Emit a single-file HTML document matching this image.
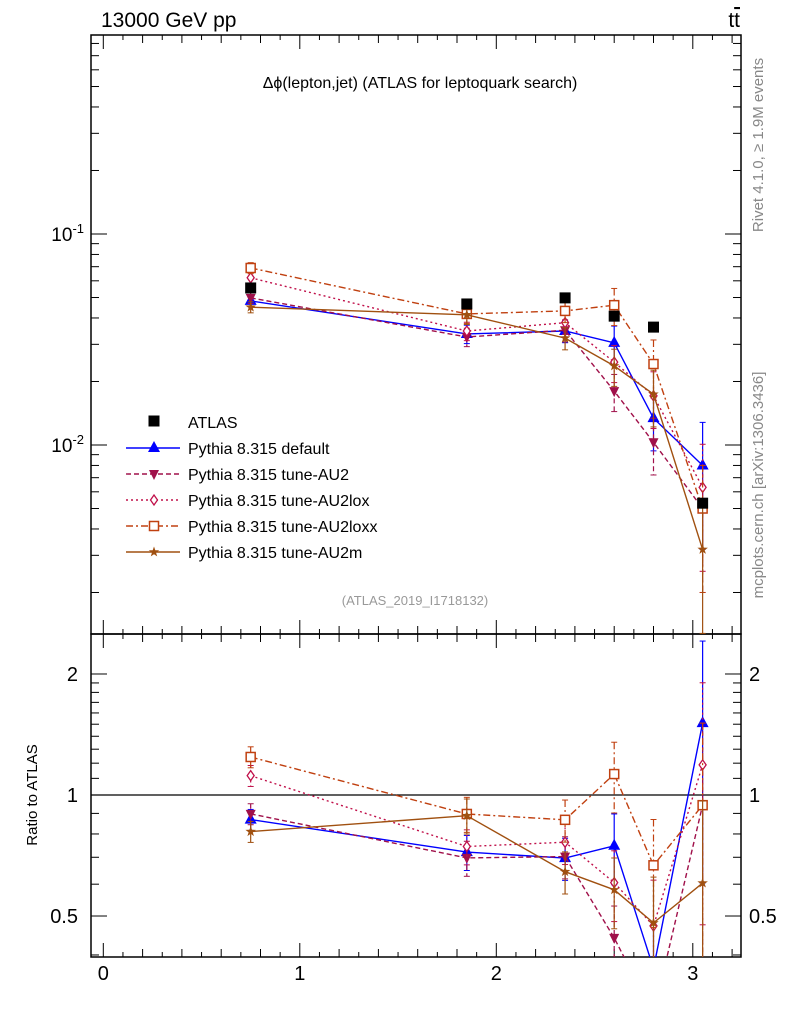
<!DOCTYPE html>
<html><head><meta charset="utf-8"><style>
body{margin:0;background:#fff;}
svg text{font-family:"Liberation Sans",sans-serif;}
</style></head><body>
<svg id="chart" width="786" height="1024" xmlns="http://www.w3.org/2000/svg">
<g id="g"></g>
</svg>
<script>
const xVals=[0.75,1.85,2.35,2.6,2.8,3.05];
const dataVals=[0.0555,0.0466,0.0498,0.0408,0.0362,0.0053];
const defaultVals=[0.0482,0.0336,0.0347,0.0305,0.0134,0.0080];
const au2Vals=[0.0498,0.0325,0.0350,0.0180,0.0103,0.0050];
const au2loxVals=[0.0620,0.0347,0.0380,0.0247,0.0171,0.0063];
const au2loxxVals=[0.0690,0.0418,0.0432,0.0460,0.0242,0.0050];
const au2mVals=[0.0450,0.0414,0.0321,0.0237,0.0174,0.0032];
const relErr=[0.06,0.1,0.12,0.2,0.3,0.6];
const xTicks=[0,1,2,3];
const ratioTicks=[0.5,1,2];

const NS="http://www.w3.org/2000/svg";
const g=document.getElementById('g');
const L=91,R=741,T=35,MID=634,B=957;
const x=v=>103.3+v*196.5;
const yM=v=>234-(Math.log10(v)+1)*211;
const yR=v=>795-Math.log10(v)*402;
function el(tag,attrs,parent){const e=document.createElementNS(NS,tag);for(const k in attrs)e.setAttribute(k,attrs[k]);(parent||g).appendChild(e);return e;}
function txt(s,attrs){const e=el('text',attrs);e.textContent=s;return e;}

// frames
let f1=el('rect',{x:L,y:T,width:R-L,height:MID-T,fill:'none',stroke:'#000','stroke-width':1.5});


let f2=el('rect',{x:L,y:MID,width:R-L,height:B-MID,fill:'none',stroke:'#000','stroke-width':1.5});



// x ticks
for(let v=0;v<=3.2001;v+=0.1){const major=Math.abs(v-Math.round(v*5)/5)<1e-6;const len=major?(Math.abs(v-Math.round(v))<1e-6?14:8):5;
 const px=x(v);
 [T,MID].forEach(y0=>{el('line',{x1:px,x2:px,y1:y0,y2:y0+len,stroke:'#000'});});
 [MID,B].forEach(y0=>{el('line',{x1:px,x2:px,y1:y0,y2:y0-len,stroke:'#000'});});
}
xTicks.forEach(v=>{const t=txt(String(v),{x:x(v),y:980,'font-size':20,'text-anchor':'middle'});
 
 });

// main y ticks (log)
for(let d=-3;d<=0;d++){for(let m=1;m<10;m++){const v=m*Math.pow(10,d);const py=yM(v);if(py<T||py>MID)continue;const len=m==1?16:8;
 el('line',{x1:L,x2:L+len,y1:py,y2:py,stroke:'#000'});el('line',{x1:R,x2:R-len,y1:py,y2:py,stroke:'#000'});}}
[[-1,234],[-2,445]].forEach(([e,py])=>{const t=el('text',{x:84,y:py+7,'font-size':19,'text-anchor':'end'});t.innerHTML='10<tspan dy="-8" font-size="13">'+(e)+'</tspan>';
 
 });

// ratio y ticks
for(let v=0.4;v<=2.5;v+=(v<1-1e-9?0.1:(v<2-1e-9?0.1:0.5))){const py=yR(v);if(py<MID||py>B)continue;const maj=[0.5,1,2].some(m=>Math.abs(m-v)<1e-6);const len=maj?16:8;
 el('line',{x1:L,x2:L+len,y1:py,y2:py,stroke:'#000'});el('line',{x1:R,x2:R-len,y1:py,y2:py,stroke:'#000'});}
ratioTicks.forEach(v=>{const a=txt(String(v),{x:78,y:yR(v)+7,'font-size':20,'text-anchor':'end'});
 
 
 const b=txt(String(v),{x:749,y:yR(v)+7,'font-size':20});
 
 });
el('line',{x1:L,x2:R,y1:yR(1),y2:yR(1),stroke:'#000','stroke-width':1.2});

// clips
const defs=el('defs',{});
const c1=el('clipPath',{id:'cm'},defs);el('rect',{x:L,y:T,width:R-L,height:MID-T},c1);
const c2=el('clipPath',{id:'cr'},defs);el('rect',{x:L,y:MID,width:R-L,height:B-MID},c2);
const gm=el('g',{'clip-path':'url(#cm)'});const gr=el('g',{'clip-path':'url(#cr)'});

function marker(parent,type,cx,cy,col){
 if(type=='tri')return el('polygon',{points:`${cx},${cy-7} ${cx-6},${cy+4} ${cx+6},${cy+4}`,fill:col},parent);
 if(type=='tridown')return el('polygon',{points:`${cx},${cy+6} ${cx-5},${cy-4} ${cx+5},${cy-4}`,fill:col},parent);
 if(type=='diamond')return el('polygon',{points:`${cx},${cy-5} ${cx+3.5},${cy} ${cx},${cy+5} ${cx-3.5},${cy}`,fill:'#fff',stroke:col,'stroke-width':1.3},parent);
 if(type=='square')return el('rect',{x:cx-4.5,y:cy-4.5,width:9,height:9,fill:'#fff',stroke:col,'stroke-width':1.5},parent);
 if(type=='star'){let p=[];for(let i=0;i<10;i++){const r=i%2?2.2:5.5,a=-Math.PI/2+i*Math.PI/5;p.push((cx+r*Math.cos(a)).toFixed(1)+','+(cy+r*Math.sin(a)).toFixed(1));}return el('polygon',{points:p.join(' '),fill:col},parent);}
 if(type=='sq')return el('rect',{x:cx-5.5,y:cy-5.5,width:11,height:11,fill:col},parent);
}
const series=[
 {name:'default',vals:defaultVals,col:'#0000ff',dash:'',m:'tri',label:'Pythia 8.315 default'},
 {name:'au2',vals:au2Vals,col:'#a0104a',dash:'5,3',m:'tridown',label:'Pythia 8.315 tune-AU2'},
 {name:'au2lox',vals:au2loxVals,col:'#c0104a',dash:'2,3',m:'diamond',label:'Pythia 8.315 tune-AU2lox'},
 {name:'au2loxx',vals:au2loxxVals,col:'#c04010',dash:'7,3,2,3',m:'square',label:'Pythia 8.315 tune-AU2loxx'},
 {name:'au2m',vals:au2mVals,col:'#a05010',dash:'',m:'star',label:'Pythia 8.315 tune-AU2m'}];

series.forEach(s=>{
 const pm=s.vals.map((v,i)=>x(xVals[i]).toFixed(1)+','+yM(v).toFixed(1)).join(' ');
 const l1=el('polyline',{points:pm,fill:'none',stroke:s.col,'stroke-width':1.4,'stroke-dasharray':s.dash},gm);
 
 
 const rv=s.vals.map((v,i)=>v/dataVals[i]);
 const pr=rv.map((v,i)=>x(xVals[i]).toFixed(1)+','+yR(v).toFixed(1)).join(' ');
 const l2=el('polyline',{points:pr,fill:'none',stroke:s.col,'stroke-width':1.4,'stroke-dasharray':s.dash},gr);
 
 
 s.vals.forEach((v,i)=>{const px=x(xVals[i]);const e=relErr[i];
  [[gm,yM,v],[gr,yR,rv[i]]].forEach(([pg,yf,val])=>{
   const y1=yf(val*(1+e)),y2=yf(Math.max(val*(1-e),1e-6));
   el('line',{x1:px,x2:px,y1:y1,y2:y2,stroke:s.col,'stroke-width':1.2,'stroke-dasharray':s.dash},pg);
   el('line',{x1:px-3,x2:px+3,y1:y1,y2:y1,stroke:s.col},pg);el('line',{x1:px-3,x2:px+3,y1:y2,y2:y2,stroke:s.col},pg);
   const mk=marker(pg,s.m,px,yf(val),s.col);
   
   
  });
 });
});
dataVals.forEach((v,i)=>{const mk=marker(gm,'sq',x(xVals[i]),yM(v),'#000');
 
 });

// legend
const lg=el('g',{});


marker(lg,'sq',154,421,'#000');
txt('ATLAS',{x:188,y:428,'font-size':16});
series.forEach((s,i)=>{const y=448+i*26;
 el('line',{x1:126,x2:180,y1:y,y2:y,stroke:s.col,'stroke-width':1.4,'stroke-dasharray':s.dash},lg);
 marker(lg,s.m,154,y,s.col);
 const t=txt(s.label,{x:188,y:y+6,'font-size':16});
 
 
});

// texts
let t;
t=txt('13000 GeV pp',{x:101,y:27,'font-size':21});
t=el('text',{x:740,y:27,'font-size':21,'text-anchor':'end'});t.innerHTML='t<tspan text-decoration="overline">t</tspan>';
t=txt('Δϕ(lepton,jet) (ATLAS for leptoquark search)',{x:420,y:88,'font-size':16,'text-anchor':'middle'});
t=txt('(ATLAS_2019_I1718132)',{x:415,y:605,'font-size':13,fill:'#999','text-anchor':'middle'});
t=txt('Ratio to ATLAS',{x:0,y:0,'font-size':15,'text-anchor':'middle',transform:'translate(37,795) rotate(-90)'});
t=txt('Rivet 4.1.0, ≥ 1.9M events',{x:0,y:0,'font-size':15,fill:'#888','text-anchor':'middle',transform:'translate(763,145) rotate(-90)'});
t=txt('mcplots.cern.ch [arXiv:1306.3436]',{x:0,y:0,'font-size':15,fill:'#888','text-anchor':'middle',transform:'translate(763,485) rotate(-90)'});
</script>
</body></html>
